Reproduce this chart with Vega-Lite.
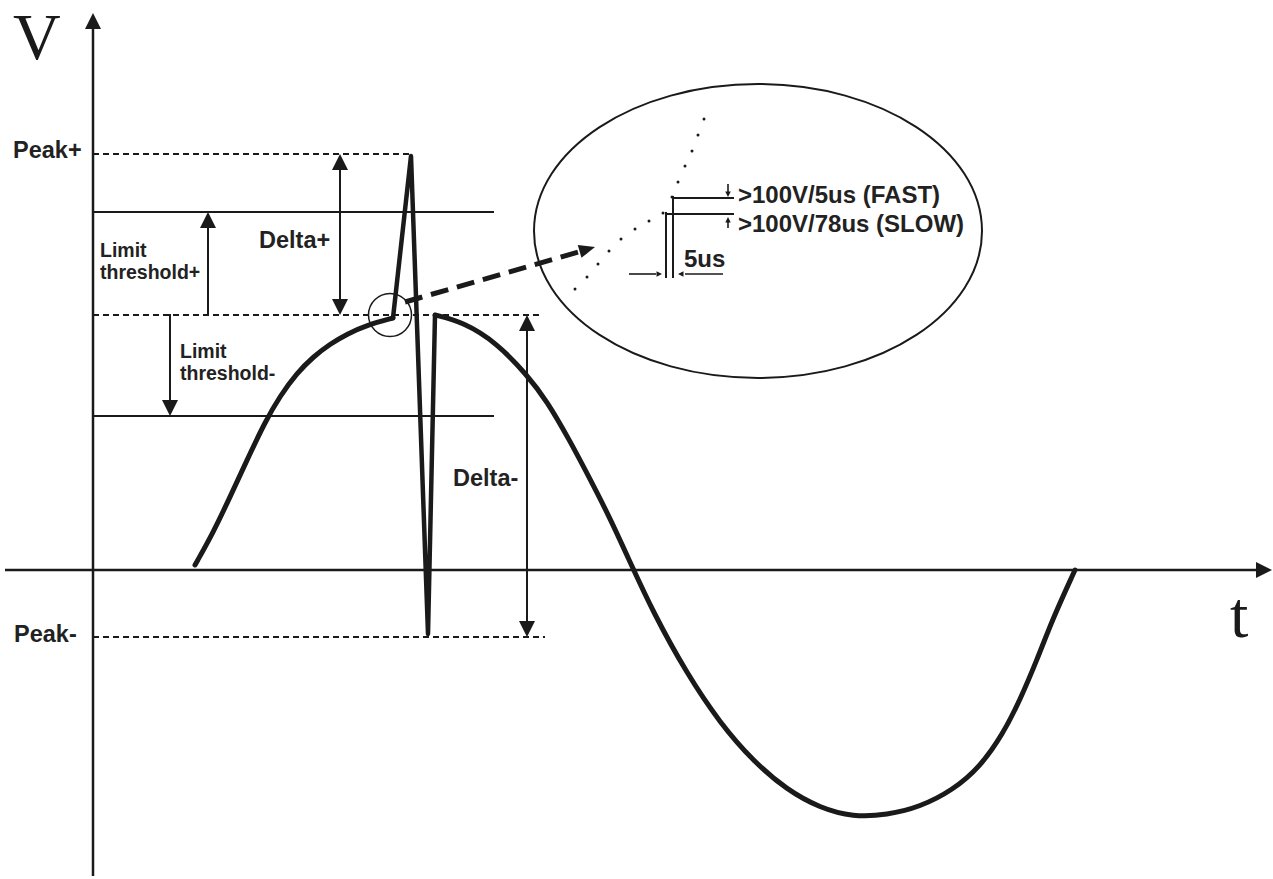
{
  "$schema": "https://vega.github.io/schema/vega-lite/v6.json",
  "width": 1273,
  "height": 879,
  "padding": 0,
  "autosize": {"type": "none"},
  "background": "white",
  "config": {"view": {"stroke": null}},
  "datasets": {
    "smooth": [
      {"t": 102, "v": 5, "seg": "rise"}, {"t": 120, "v": 37, "seg": "rise"}, {"t": 137, "v": 73, "seg": "rise"},
      {"t": 154, "v": 110, "seg": "rise"}, {"t": 172, "v": 148, "seg": "rise"}, {"t": 187, "v": 174, "seg": "rise"},
      {"t": 204, "v": 197, "seg": "rise"}, {"t": 220, "v": 213, "seg": "rise"}, {"t": 237, "v": 226, "seg": "rise"},
      {"t": 254, "v": 236, "seg": "rise"}, {"t": 274, "v": 245, "seg": "rise"}, {"t": 300, "v": 252, "seg": "rise"},
      {"t": 342, "v": 255, "seg": "fall"}, {"t": 370, "v": 248, "seg": "fall"}, {"t": 404, "v": 227, "seg": "fall"},
      {"t": 434, "v": 195, "seg": "fall"}, {"t": 454, "v": 169, "seg": "fall"}, {"t": 477, "v": 129, "seg": "fall"},
      {"t": 497, "v": 91, "seg": "fall"}, {"t": 517, "v": 52, "seg": "fall"}, {"t": 537, "v": 8, "seg": "fall"},
      {"t": 560, "v": -42, "seg": "fall"}, {"t": 594, "v": -104, "seg": "fall"}, {"t": 627, "v": -153, "seg": "fall"},
      {"t": 660, "v": -191, "seg": "fall"}, {"t": 694, "v": -220, "seg": "fall"}, {"t": 727, "v": -238, "seg": "fall"},
      {"t": 760, "v": -247, "seg": "fall"}, {"t": 794, "v": -245, "seg": "fall"}, {"t": 827, "v": -237, "seg": "fall"},
      {"t": 860, "v": -220, "seg": "fall"}, {"t": 887, "v": -197, "seg": "fall"}, {"t": 910, "v": -164, "seg": "fall"},
      {"t": 927, "v": -130, "seg": "fall"}, {"t": 944, "v": -90, "seg": "fall"}, {"t": 960, "v": -48, "seg": "fall"},
      {"t": 982, "v": 0, "seg": "fall"}
    ],
    "spike": [
      {"t": 300, "v": 252}, {"t": 318, "v": 414},
      {"t": 335, "v": -64}, {"t": 342, "v": 255}
    ],
    "solid": [
      {"t": 0, "v": 358, "t2": 400, "v2": 358},
      {"t": 0, "v": 154, "t2": 400, "v2": 154},
      {"t": 115, "v": 255, "t2": 115, "v2": 345},
      {"t": 77, "v": 255, "t2": 77, "v2": 167},
      {"t": 247, "v": 403, "t2": 247, "v2": 268},
      {"t": 434, "v": 242, "t2": 434, "v2": -53},
      {"t": 580, "v": 293, "t2": 580, "v2": 373},
      {"t": 580, "v": 372, "t2": 640, "v2": 372},
      {"t": 573, "v": 293, "t2": 573, "v2": 357},
      {"t": 573, "v": 356, "t2": 640, "v2": 356}
    ],
    "axes": [
      {"t": 0, "v": -306, "t2": 0, "v2": 545},
      {"t": -88, "v": 0, "t2": 1165, "v2": 0}
    ],
    "dashed": [
      {"t": 0, "v": 416, "t2": 317, "v2": 416},
      {"t": 0, "v": 255, "t2": 447, "v2": 255},
      {"t": 0, "v": -67, "t2": 452, "v2": -67}
    ],
    "thin": [
      {"t": 536, "v": 296, "t2": 563, "v2": 296},
      {"t": 630, "v": 296, "t2": 592, "v2": 296},
      {"t": 635, "v": 386, "t2": 635, "v2": 378},
      {"t": 635, "v": 342, "t2": 635, "v2": 349}
    ],
    "bigdash": [
      {"t": 312, "v": 268, "t2": 489, "v2": 319}
    ],
    "heads": [
      {"t": 0, "v": 557, "dir": "up"},
      {"t": 1179, "v": 0, "dir": "right"},
      {"t": 115, "v": 358, "dir": "up"},
      {"t": 77, "v": 154, "dir": "down"},
      {"t": 247, "v": 416, "dir": "up"},
      {"t": 247, "v": 255, "dir": "down"},
      {"t": 434, "v": 255, "dir": "up"},
      {"t": 434, "v": -67, "dir": "down"}
    ],
    "smallheads": [
      {"t": 569, "v": 296, "dir": "right"},
      {"t": 585, "v": 296, "dir": "left"},
      {"t": 635, "v": 373, "dir": "down"},
      {"t": 635, "v": 353, "dir": "up"}
    ],
    "dashhead": [{"t": 502, "v": 323}],
    "dots": [
      {"t": 482, "v": 281}, {"t": 494, "v": 293}, {"t": 505, "v": 306}, {"t": 516, "v": 319},
      {"t": 528, "v": 331}, {"t": 542, "v": 341}, {"t": 556, "v": 349}, {"t": 570, "v": 357},
      {"t": 579, "v": 373}, {"t": 585, "v": 388}, {"t": 592, "v": 404}, {"t": 599, "v": 419},
      {"t": 605, "v": 435}, {"t": 611, "v": 451}
    ],
    "ellipse": [{"t": 665, "v": 339}],
    "ring": [{"t": 297, "v": 255}],
    "bigtext": [
      {"t": -80, "v": 412, "label": "Peak+"},
      {"t": -79, "v": -72, "label": "Peak-"},
      {"t": 166, "v": 322, "label": "Delta+"},
      {"t": 360, "v": 84, "label": "Delta-"}
    ],
    "limtext": [
      {"t": 7, "v": 313, "label": "Limit"},
      {"t": 7, "v": 291, "label": "threshold+"},
      {"t": 87, "v": 212, "label": "Limit"},
      {"t": 87, "v": 190, "label": "threshold-"}
    ],
    "zoomtext": [
      {"t": 645, "v": 367, "label": ">100V/5us (FAST)"},
      {"t": 645, "v": 338, "label": ">100V/78us (SLOW)"},
      {"t": 591, "v": 303, "label": "5us"}
    ],
    "axistext": [
      {"t": -80, "v": 511, "label": "V"},
      {"t": 1137, "v": -67, "label": "t"}
    ]
  },
  "encoding": {
    "x": {"field": "t", "type": "quantitative", "scale": {"domain": [-93, 1180], "nice": false, "zero": false}, "axis": null},
    "y": {"field": "v", "type": "quantitative", "scale": {"domain": [-309, 570], "nice": false, "zero": false}, "axis": null}
  },
  "layer": [
    {
      "data": {"name": "ellipse"},
      "mark": {"type": "point", "shape": "M 1 0 C 1 0.3624 0.5523 0.656 0 0.656 C -0.5523 0.656 -1 0.3624 -1 0 C -1 -0.3624 -0.5523 -0.656 0 -0.656 C 0.5523 -0.656 1 -0.3624 1 0 Z", "size": 200704, "filled": false, "stroke": "#1a1a1a", "strokeWidth": 2, "opacity": 1}
    },
    {
      "data": {"name": "ring"},
      "mark": {"type": "point", "shape": "circle", "size": 1849, "filled": false, "stroke": "#1a1a1a", "strokeWidth": 1.5, "opacity": 1}
    },
    {
      "data": {"name": "axes"},
      "mark": {"type": "rule", "color": "#1a1a1a", "strokeWidth": 2.5},
      "encoding": {"x2": {"field": "t2"}, "y2": {"field": "v2"}}
    },
    {
      "data": {"name": "solid"},
      "mark": {"type": "rule", "color": "#1a1a1a", "strokeWidth": 2, "strokeCap": "square"},
      "encoding": {"x2": {"field": "t2"}, "y2": {"field": "v2"}}
    },
    {
      "data": {"name": "dashed"},
      "mark": {"type": "rule", "color": "#1a1a1a", "strokeWidth": 2, "strokeDash": [6, 4]},
      "encoding": {"x2": {"field": "t2"}, "y2": {"field": "v2"}}
    },
    {
      "data": {"name": "thin"},
      "mark": {"type": "rule", "color": "#1a1a1a", "strokeWidth": 1.6},
      "encoding": {"x2": {"field": "t2"}, "y2": {"field": "v2"}}
    },
    {
      "data": {"name": "bigdash"},
      "mark": {"type": "rule", "color": "#1a1a1a", "strokeWidth": 5, "strokeDash": [18, 9]},
      "encoding": {"x2": {"field": "t2"}, "y2": {"field": "v2"}}
    },
    {
      "data": {"name": "smooth"},
      "mark": {"type": "line", "color": "#1a1a1a", "strokeWidth": 5, "interpolate": "basis", "strokeCap": "round"},
      "encoding": {"detail": {"field": "seg"}}
    },
    {
      "data": {"name": "spike"},
      "mark": {"type": "line", "color": "#1a1a1a", "strokeWidth": 4.5, "interpolate": "linear", "strokeJoin": "round", "strokeCap": "round"}
    },
    {
      "data": {"name": "heads"},
      "mark": {"type": "point", "filled": true, "size": 1024, "color": "#1a1a1a", "opacity": 1},
      "encoding": {
        "shape": {"field": "dir", "type": "nominal", "legend": null,
          "scale": {"domain": ["up", "down", "left", "right"],
                    "range": ["M 0 0 L 0.5 1 L -0.5 1 Z", "M 0 0 L 0.5 -1 L -0.5 -1 Z", "M 0 0 L 1 -0.5 L 1 0.5 Z", "M 0 0 L -1 -0.5 L -1 0.5 Z"]}}
      }
    },
    {
      "data": {"name": "smallheads"},
      "mark": {"type": "point", "filled": true, "size": 121, "color": "#1a1a1a", "opacity": 1},
      "encoding": {
        "shape": {"field": "dir", "type": "nominal", "legend": null,
          "scale": {"domain": ["up", "down", "left", "right"],
                    "range": ["M 0 0 L 0.4 1 L -0.4 1 Z", "M 0 0 L 0.4 -1 L -0.4 -1 Z", "M 0 0 L 1 -0.35 L 1 0.35 Z", "M 0 0 L -1 -0.35 L -1 0.35 Z"]}}
      }
    },
    {
      "data": {"name": "dashhead"},
      "mark": {"type": "point", "filled": true, "size": 1024, "color": "#1a1a1a", "opacity": 1, "angle": 344, "shape": "M 0 0 L -1 -0.42 L -1 0.42 Z"}
    },
    {
      "data": {"name": "dots"},
      "mark": {"type": "point", "shape": "circle", "filled": true, "size": 9, "color": "#1a1a1a", "opacity": 1}
    },
    {
      "data": {"name": "bigtext"},
      "mark": {"type": "text", "align": "left", "baseline": "alphabetic", "font": "Liberation Sans", "fontWeight": "bold", "fontSize": 23.5, "color": "#222"},
      "encoding": {"text": {"field": "label"}}
    },
    {
      "data": {"name": "limtext"},
      "mark": {"type": "text", "align": "left", "baseline": "alphabetic", "font": "Liberation Sans", "fontWeight": "bold", "fontSize": 19.5, "color": "#222"},
      "encoding": {"text": {"field": "label"}}
    },
    {
      "data": {"name": "zoomtext"},
      "mark": {"type": "text", "align": "left", "baseline": "alphabetic", "font": "Liberation Sans", "fontWeight": "bold", "fontSize": 24, "color": "#222"},
      "encoding": {"text": {"field": "label"}}
    },
    {
      "data": {"name": "axistext"},
      "mark": {"type": "text", "align": "left", "baseline": "alphabetic", "font": "Liberation Serif", "fontSize": 66, "color": "#1a1a1a"},
      "encoding": {"text": {"field": "label"}}
    }
  ]
}
